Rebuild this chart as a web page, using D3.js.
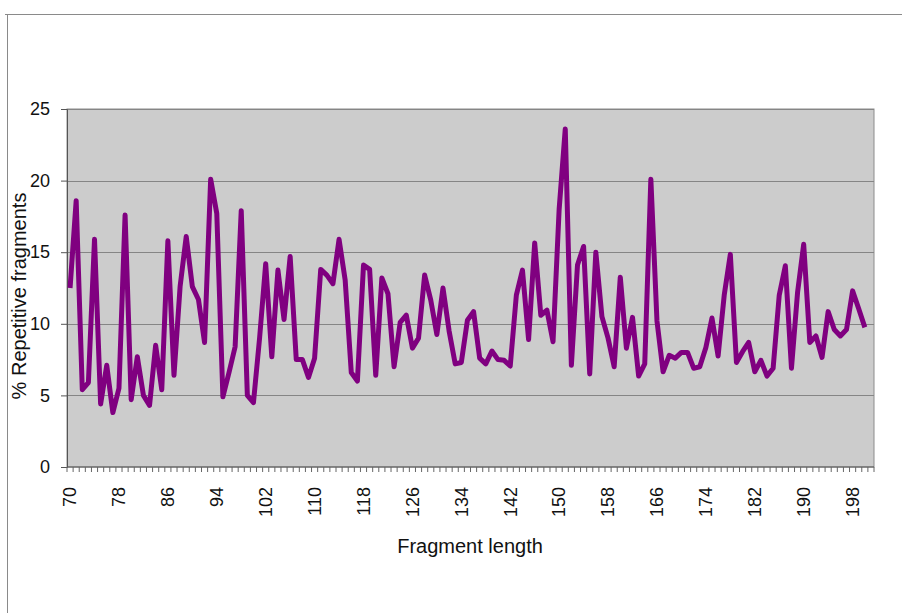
<!DOCTYPE html>
<html>
<head>
<meta charset="utf-8">
<script src="https://cdn.jsdelivr.net/npm/d3@7"></script>
<style>
  body { margin: 0; background: #fff; }
  svg { display: block; font-family: "Liberation Sans", Arial, sans-serif; }
</style>
</head>
<body>
<script>
// fragment lengths on the category axis (one empty slot after 200)
const lengths = d3.range(70, 202);
// % repetitive fragments, lengths 70..200
const repetitive = [
  12.5, 18.6, 5.4, 5.9, 15.9, 4.4, 7.1, 3.8, 5.5, 17.6,
  4.7, 7.7, 5.0, 4.3, 8.5, 5.4, 15.8, 6.4, 12.6, 16.1,
  12.6, 11.7, 8.7, 20.1, 17.7, 4.9, 6.6, 8.4, 17.9, 5.0,
  4.5, 9.0, 14.2, 7.7, 13.75, 10.3, 14.7, 7.5, 7.5, 6.25,
  7.6, 13.8, 13.4, 12.8, 15.9, 13.05, 6.6, 6.0, 14.1, 13.8,
  6.4, 13.2, 12.1, 7.0, 10.1, 10.6, 8.3, 9.0, 13.4, 11.65,
  9.25, 12.5, 9.5, 7.2, 7.3, 10.25, 10.85, 7.6, 7.2, 8.1,
  7.5, 7.45, 7.05, 12.0, 13.75, 8.9, 15.65, 10.6, 10.95, 8.75,
  18.0, 23.6, 7.1, 14.1, 15.4, 6.5, 15.0, 10.5, 9.0, 7.0,
  13.25, 8.3, 10.45, 6.35, 7.2, 20.1, 10.2, 6.65, 7.8, 7.6,
  8.0, 8.0, 6.9, 7.0, 8.35, 10.4, 7.75, 12.0, 14.85, 7.3,
  8.05, 8.7, 6.65, 7.45, 6.35, 6.9, 12.0, 14.05, 6.9, 12.2,
  15.55, 8.7, 9.15, 7.65, 10.85, 9.6, 9.15, 9.6, 12.3, 11.05,
  9.75
];
const xTickLabels = [70, 78, 86, 94, 102, 110, 118, 126, 134, 142, 150, 158, 166, 174, 182, 190, 198];
const yTicks = [0, 5, 10, 15, 20, 25];

const width = 902, height = 613;
const margin = {top: 109, right: 28, bottom: 146, left: 67};

const svg = d3.select("body").append("svg")
    .attr("width", width)
    .attr("height", height);

// slide frame
svg.append("path")
    .attr("d", `M5,14.5H${width}M7.5,14.5V${height}`)
    .attr("fill", "none")
    .attr("stroke", "#8a8a8a")
    .attr("stroke-width", 1);

const x = d3.scaleBand(lengths, [margin.left, width - margin.right]);
const y = d3.scaleLinear([0, 25], [height - margin.bottom, margin.top]);

// plot area
svg.append("rect")
    .attr("x", margin.left)
    .attr("y", margin.top)
    .attr("width", width - margin.left - margin.right)
    .attr("height", height - margin.top - margin.bottom)
    .attr("fill", "#cccccc")
    .attr("stroke", "#8c8c8c")
    .attr("stroke-width", 1);

// gridlines
svg.append("g")
    .attr("stroke", "#858585")
    .attr("stroke-width", 1.2)
  .selectAll("line")
  .data(yTicks.slice(1))
  .join("line")
    .attr("x1", margin.left)
    .attr("x2", width - margin.right)
    .attr("y1", d => Math.round(y(d)) + 0.5)
    .attr("y2", d => Math.round(y(d)) + 0.5);

// y axis
svg.append("g")
    .attr("transform", `translate(${margin.left},0)`)
    .call(d3.axisLeft(y).tickValues(yTicks).tickSize(6).tickPadding(11))
    .call(g => g.select(".domain").attr("stroke", "#555"))
    .call(g => g.selectAll(".tick line").attr("stroke", "#555"))
    .call(g => g.selectAll("text")
      .attr("font-size", 18)
      .attr("font-family", "Liberation Sans, Arial, sans-serif")
      .attr("fill", "#111"));

// x axis: tick marks between categories, labels every 8th length
const xAxis = svg.append("g")
    .attr("transform", `translate(0,${height - margin.bottom})`);

xAxis.append("line")
    .attr("x1", margin.left)
    .attr("x2", width - margin.right)
    .attr("stroke", "#555");

xAxis.append("g")
    .attr("stroke", "#666")
  .selectAll("line")
  .data(lengths.concat([null]))
  .join("line")
    .attr("x1", d => d === null ? x.range()[1] : x(d))
    .attr("x2", d => d === null ? x.range()[1] : x(d))
    .attr("y1", 0)
    .attr("y2", 5);

xAxis.selectAll(".lbl")
  .data(xTickLabels)
  .join("text")
    .attr("class", "lbl")
    .attr("transform", d => `translate(${x(d) + x.bandwidth() / 2},${20}) rotate(-90)`)
    .attr("text-anchor", "end")
    .attr("dy", "0.35em")
    .attr("font-size", 18)
    .attr("fill", "#111")
    .text(d => d);

// series line
const line = d3.line()
    .x((d, i) => x(lengths[i]) + x.bandwidth() / 2)
    .y(d => y(d));

svg.append("path")
    .datum(repetitive)
    .attr("fill", "none")
    .attr("stroke", "#800080")
    .attr("stroke-width", 5)
    .attr("stroke-linejoin", "round")
    .attr("d", line);

// axis titles
svg.append("text")
    .attr("x", 470)
    .attr("y", 553)
    .attr("text-anchor", "middle")
    .attr("font-size", 20)
    .attr("fill", "#111")
    .text("Fragment length");

svg.append("text")
    .attr("transform", "translate(26,296) rotate(-90)")
    .attr("text-anchor", "middle")
    .attr("font-size", 20)
    .attr("fill", "#111")
    .text("% Repetitive fragments");
</script>
</body>
</html>
